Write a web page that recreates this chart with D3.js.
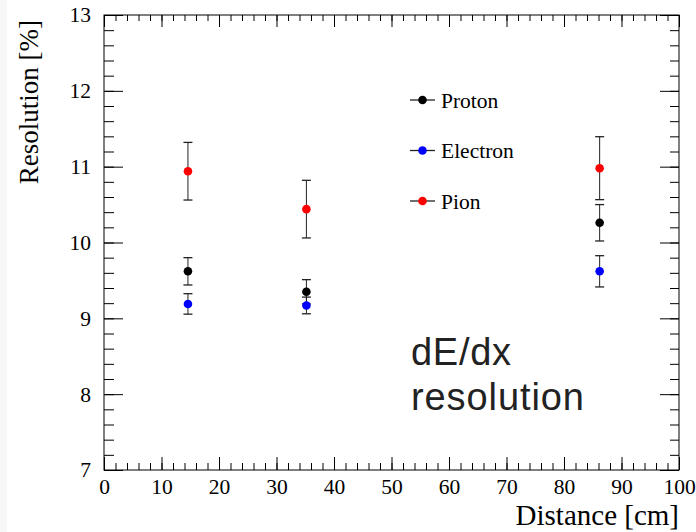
<!DOCTYPE html>
<html>
<head>
<meta charset="utf-8">
<script src="https://cdn.jsdelivr.net/npm/d3@7"></script>
<style>
  html, body { margin: 0; padding: 0; background: #ffffff; }
  svg { display: block; }
  .axis path { display: none; }
  .axis line { stroke: #000; stroke-width: 1; }
  .axis text { font-family: 'Liberation Serif', 'Times New Roman', serif; font-size: 21.5px; fill: #000; }
</style>
</head>
<body>
<svg id="chart"></svg>
<script>
(function() {
    'use strict';

    // Data
    const distances = [14.6, 35.2, 86.2];
    const protonRes = [9.62, 9.35, 10.26];
    const protonErr = [0.18, 0.16, 0.24];
    const electronRes = [9.19, 9.17, 9.62];
    const electronErr = [0.135, 0.11, 0.206];
    const pionRes = [10.94, 10.44, 10.98];
    const pionErr = [0.38, 0.38, 0.415];

    const xTicks = [0, 10, 20, 30, 40, 50, 60, 70, 80, 90, 100];
    const yTicks = [7, 8, 9, 10, 11, 12, 13];

    const series = [
        { name: 'Proton', color: '#000000', values: protonRes, errors: protonErr },
        { name: 'Electron', color: '#0000ff', values: electronRes, errors: electronErr },
        { name: 'Pion', color: '#ff0000', values: pionRes, errors: pionErr }
    ];

    const width = 696, height = 532;
    const margin = { top: 15, right: 17, bottom: 62, left: 104 };
    const innerWidth = width - margin.left - margin.right;
    const innerHeight = height - margin.top - margin.bottom;

    const svg = d3.select('#chart')
        .attr('width', width)
        .attr('height', height);

    // faint strip on the left edge of the canvas
    svg.append('rect')
        .attr('x', 0).attr('y', 0)
        .attr('width', 7).attr('height', height)
        .attr('fill', '#f7f7f7');

    const g = svg.append('g')
        .attr('transform', `translate(${margin.left}, ${margin.top})`);

    const xScale = d3.scaleLinear().domain([0, 100]).range([0, innerWidth]);
    const yScale = d3.scaleLinear().domain([7, 13]).range([innerHeight, 0]);

    const xMinor = d3.range(0, 100.001, 2);
    const yMinor = d3.range(7, 13.001, 0.2);

    // Bottom axis (ticks pointing inward)
    g.append('g')
        .attr('class', 'axis')
        .attr('transform', `translate(0, ${innerHeight})`)
        .call(d3.axisBottom(xScale).tickValues(xMinor).tickSize(-7).tickFormat(''));
    g.append('g')
        .attr('class', 'axis')
        .attr('transform', `translate(0, ${innerHeight})`)
        .call(d3.axisBottom(xScale).tickValues(xTicks).tickSizeInner(-13).tickSizeOuter(0)
            .tickPadding(9).tickFormat(d3.format('d')));

    // Top axis
    g.append('g')
        .attr('class', 'axis')
        .call(d3.axisTop(xScale).tickValues(xMinor).tickSize(-6).tickFormat(''));
    g.append('g')
        .attr('class', 'axis')
        .call(d3.axisTop(xScale).tickValues(xTicks).tickSize(-12).tickFormat(''));

    // Left axis
    g.append('g')
        .attr('class', 'axis')
        .call(d3.axisLeft(yScale).tickValues(yMinor).tickSize(-10).tickFormat(''));
    g.append('g')
        .attr('class', 'axis')
        .call(d3.axisLeft(yScale).tickValues(yTicks).tickSizeInner(-19).tickSizeOuter(0)
            .tickPadding(13).tickFormat(d3.format('d')));

    // Right axis
    g.append('g')
        .attr('class', 'axis')
        .attr('transform', `translate(${innerWidth}, 0)`)
        .call(d3.axisRight(yScale).tickValues(yMinor).tickSize(-9).tickFormat(''));
    g.append('g')
        .attr('class', 'axis')
        .attr('transform', `translate(${innerWidth}, 0)`)
        .call(d3.axisRight(yScale).tickValues(yTicks).tickSize(-19).tickFormat(''));

    // Frame
    g.append('rect')
        .attr('x', 0).attr('y', 0)
        .attr('width', innerWidth).attr('height', innerHeight)
        .attr('fill', 'none')
        .attr('stroke', '#000')
        .attr('stroke-width', 1);

    // Axis titles
    svg.append('text')
        .attr('x', margin.left + innerWidth)
        .attr('y', 525)
        .attr('text-anchor', 'end')
        .style('font-family', "'Liberation Serif', 'Times New Roman', serif")
        .style('font-size', '29px')
        .text('Distance [cm]');

    svg.append('text')
        .attr('transform', 'translate(38, 20) rotate(-90)')
        .attr('text-anchor', 'end')
        .style('font-family', "'Liberation Serif', 'Times New Roman', serif")
        .style('font-size', '27px')
        .text('Resolution [%]');

    // Data points with error bars
    const capHalf = 4.5;
    series.forEach(s => {
        const sg = g.append('g');
        distances.forEach((d, i) => {
            const cx = xScale(d);
            const yTop = yScale(s.values[i] + s.errors[i]);
            const yBot = yScale(s.values[i] - s.errors[i]);
            sg.append('line')
                .attr('x1', cx).attr('x2', cx)
                .attr('y1', yTop).attr('y2', yBot)
                .attr('stroke', '#222').attr('stroke-width', 1);
            [yTop, yBot].forEach(yy => {
                sg.append('line')
                    .attr('x1', cx - capHalf).attr('x2', cx + capHalf)
                    .attr('y1', yy).attr('y2', yy)
                    .attr('stroke', '#222').attr('stroke-width', 1.3);
            });
            sg.append('circle')
                .attr('cx', cx)
                .attr('cy', yScale(s.values[i]))
                .attr('r', 4.3)
                .attr('fill', s.color);
        });
    });

    // Legend
    const legend = svg.append('g')
        .attr('transform', 'translate(410, 100)');
    series.forEach((s, i) => {
        const row = legend.append('g')
            .attr('transform', `translate(0, ${i * 50.5})`);
        row.append('line')
            .attr('x1', 0).attr('x2', 25)
            .attr('y1', 0).attr('y2', 0)
            .attr('stroke', '#222').attr('stroke-width', 1.3);
        row.append('circle')
            .attr('cx', 12.5).attr('cy', 0)
            .attr('r', 4.3)
            .attr('fill', s.color);
        row.append('text')
            .attr('x', 31)
            .attr('y', 0)
            .attr('dy', '0.35em')
            .style('font-family', "'Liberation Serif', 'Times New Roman', serif")
            .style('font-size', '21.5px')
            .text(s.name);
    });

    // Annotation
    const note = svg.append('text')
        .attr('x', 411)
        .attr('y', 365)
        .style('font-family', "'Liberation Sans', Arial, sans-serif")
        .style('font-size', '38px')
        .style('fill', '#222');
    note.append('tspan').attr('x', 411).attr('textLength', 100).text('dE/dx');
    note.append('tspan').attr('x', 411).attr('dy', 45).attr('textLength', 173).text('resolution');
})();
</script>
</body>
</html>
